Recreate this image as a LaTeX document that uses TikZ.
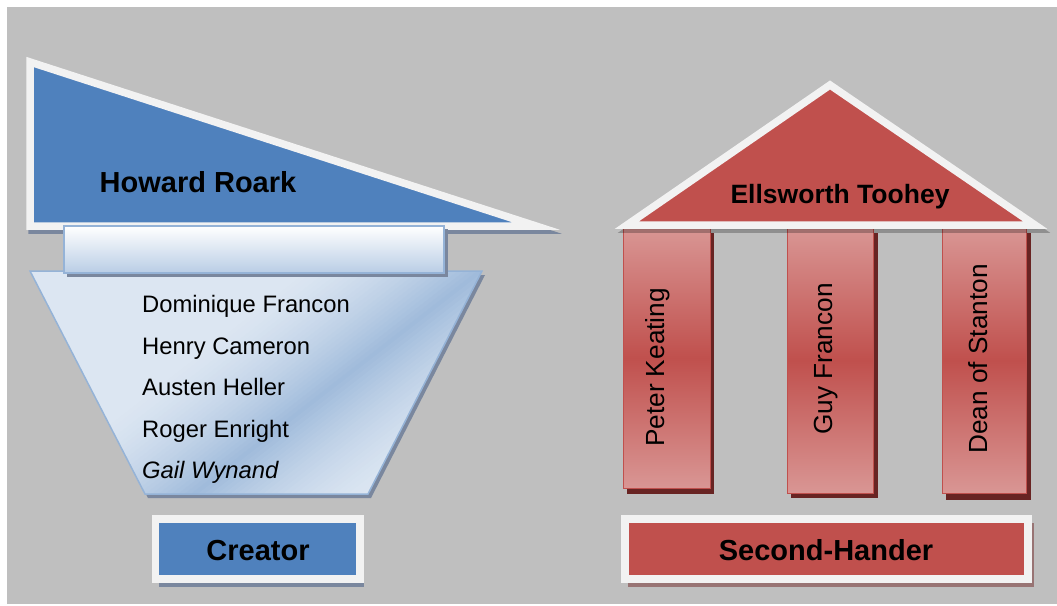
\documentclass[tikz,border=0pt]{standalone}
\usepackage{fontspec}
\setmainfont{Liberation Sans}
\usetikzlibrary{positioning}

\definecolor{bggray}{RGB}{191,191,191}
\definecolor{framewhite}{RGB}{242,242,242}
\definecolor{roarkblue}{RGB}{79,129,189}
\definecolor{paleblue}{RGB}{220,230,242}
\definecolor{midblue}{RGB}{149,179,215}
\definecolor{barblue}{RGB}{185,205,229}
\definecolor{blueshadow}{RGB}{122,135,158}
\definecolor{tooheyred}{RGB}{192,80,77}
\definecolor{pinkred}{RGB}{217,150,148}
\definecolor{darkred}{RGB}{104,36,35}
\definecolor{redshadow}{RGB}{152,116,116}

\begin{document}
\begin{tikzpicture}[
  x=1pt, y=-1pt,
  heading/.style={font=\bfseries\fontsize{29}{34}\selectfont, anchor=base, inner sep=0pt},
  roof heading/.style={font=\bfseries\fontsize{26.5}{31}\selectfont, anchor=base, inner sep=0pt},
  person/.style={font=\fontsize{23.8}{28}\selectfont, anchor=base west, inner sep=0pt},
  pillar text/.style={font=\fontsize{26.2}{30}\selectfont, rotate=90, anchor=base, inner sep=0pt},
  framed/.style={draw=framewhite, line width=7.5pt, line join=miter},
  pillar/.style={top color=pinkred, bottom color=pinkred, middle color=tooheyred, draw=tooheyred, line width=1pt}
]
% background
\fill[white] (0,0) rectangle (1057,605);
\fill[bggray] (7,7) rectangle (1057,604);

% --- creator side ---
\path[fill=blueshadow, draw=blueshadow, line width=7.5pt, line join=miter, shift={(2,4)}]
  (30,62) -- (30,226) -- (536,226) -- cycle;
\path[framed, fill=roarkblue] (30,62) -- (30,226) -- (536,226) -- cycle;
\node[heading] (roark) at (198,192) {Howard Roark};

% funnel with a diagonal streak
\fill[blueshadow, shift={(3,4)}] (30,271) -- (482,271) -- (368,494) -- (145,494) -- cycle;
\begin{scope}
  \clip (30,271) -- (482,271) -- (368,494) -- (145,494) -- cycle;
  \fill[paleblue] (30,271) rectangle (482,494);
  \foreach \d in {-108,-104,...,108} {
    \pgfmathsetmacro\mix{85*(1-abs(\d)/112)^1.5}
    \draw[midblue!\mix!paleblue, line width=4.6pt]
      (559+0.614*\d, 210.6+0.789*\d) -- (85.5+0.614*\d, 579+0.789*\d);
  }
\end{scope}
\draw[midblue, line width=1.5pt] (30,271) -- (482,271) -- (368,494) -- (145,494) -- cycle;

\fill[blueshadow] (67,229) rectangle (448,277);
\shade[top color=white, bottom color=barblue, draw=midblue, line width=1.5pt] (64,226) rectangle (444,273);

\node[person] (dominique) at (142,312) {Dominique Francon};
\node[person] (henry) at (142,354) {Henry Cameron};
\node[person] (austen) at (142,395) {Austen Heller};
\node[person] (roger) at (142,437) {Roger Enright};
\node[person, font=\itshape\fontsize{23.8}{28}\selectfont] (gail) at (142,478) {Gail Wynand};

\fill[blueshadow] (159,523) rectangle (364,587);
\path[framed, fill=roarkblue] (155.5,519) rectangle (360,579);
\node[heading] (creator) at (258,560) {Creator};

% --- second-hander side ---
\fill[darkred] (627,233) rectangle (714,494);
\shade[pillar] (623,228) rectangle (710,488);
\fill[darkred] (791,233) rectangle (878,498);
\shade[pillar] (787,228) rectangle (873,493);
\fill[darkred] (946,233) rectangle (1031,500);
\shade[pillar] (942,228) rectangle (1026,493);
\node[pillar text] (keating) at (664,367.5) {Peter Keating};
\node[pillar text] (guy) at (832,359) {Guy Francon};
\node[pillar text] (dean) at (987,359) {Dean of Stanton};

\path[fill=black, draw=black, opacity=0.25, line width=7.5pt, line join=miter, shift={(3,4)}]
  (627,225) -- (830,85) -- (1035,225) -- cycle;
\path[framed, fill=tooheyred] (627,225) -- (830,85) -- (1035,225) -- cycle;
\node[roof heading] (toohey) at (840,203) {Ellsworth Toohey};

\fill[redshadow] (628,523) rectangle (1034,587);
\path[framed, fill=tooheyred] (625,519) rectangle (1028,579);
\node[heading] (hander) at (826,560) {Second-Hander};
\end{tikzpicture}
\end{document}
